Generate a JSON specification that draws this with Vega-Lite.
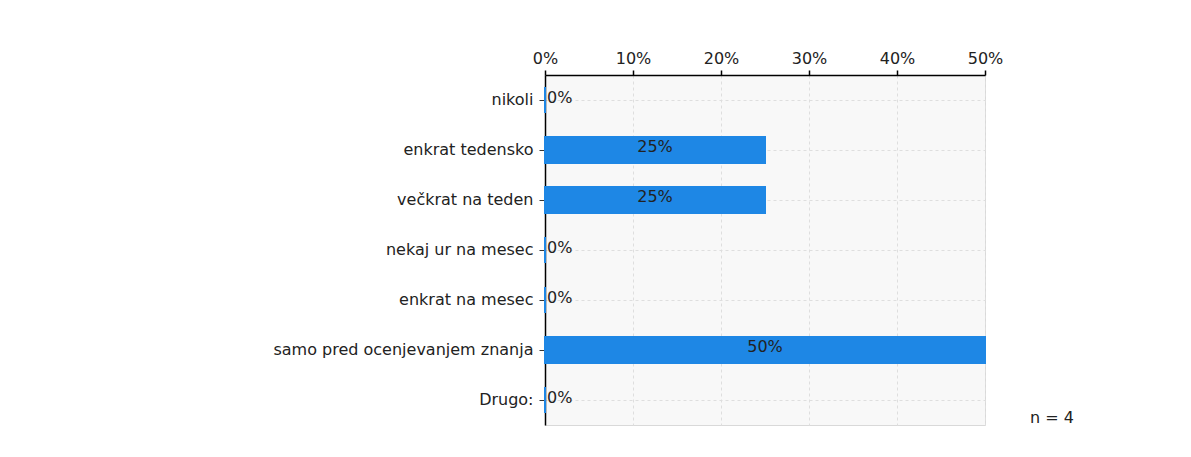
{
  "$schema": "https://vega.github.io/schema/vega-lite/v6.json",
  "autosize": "none",
  "width": 440,
  "height": 350,
  "padding": {"left": 545, "top": 75, "right": 206, "bottom": 32},
  "background": "white",
  "config": {
    "font": "DejaVu Sans",
    "view": {"fill": "#f8f8f8", "stroke": "#d9d9d9", "strokeWidth": 1}
  },
  "data": {
    "values": [
      {"kategorija": "nikoli", "delez": 0},
      {"kategorija": "enkrat tedensko", "delez": 0.25},
      {"kategorija": "večkrat na teden", "delez": 0.25},
      {"kategorija": "nekaj ur na mesec", "delez": 0},
      {"kategorija": "enkrat na mesec", "delez": 0},
      {"kategorija": "samo pred ocenjevanjem znanja", "delez": 0.5},
      {"kategorija": "Drugo:", "delez": 0}
    ]
  },
  "encoding": {
    "y": {
      "field": "kategorija",
      "type": "nominal",
      "sort": null,
      "scale": {"paddingInner": 0.48, "paddingOuter": 0.24},
      "axis": {
        "title": null,
        "domainColor": "#000",
        "domainWidth": 1.5,
        "tickColor": "#333",
        "tickSize": 6,
        "labelPadding": 6,
        "labelFontSize": 16,
        "labelColor": "#222",
        "labelFont": "DejaVu Sans",
        "grid": true,
        "gridColor": "#dedede",
        "gridDash": [3, 3],
        "labelLimit": 400
      }
    }
  },
  "layer": [
    {
      "mark": {"type": "bar", "color": "#1e87e5", "stroke": "#1e87e5", "strokeWidth": 2},
      "encoding": {
        "x": {
          "field": "delez",
          "type": "quantitative",
          "scale": {"domain": [0, 0.5], "nice": false},
          "axis": {
            "orient": "top",
            "title": null,
            "format": ".0%",
            "values": [0, 0.1, 0.2, 0.3, 0.4, 0.5],
            "domainColor": "#000",
            "domainWidth": 1.5,
            "tickColor": "#000",
            "tickSize": 5,
            "tickWidth": 1.5,
            "labelPadding": 4,
            "labelFontSize": 16,
            "labelColor": "#222",
            "labelFont": "DejaVu Sans",
            "labelFlush": false,
            "grid": true,
            "gridColor": "#dedede",
            "gridDash": [3, 3]
          }
        }
      }
    },
    {
      "transform": [
        {"filter": "datum.delez > 0"},
        {"calculate": "datum.delez / 2", "as": "sredina"}
      ],
      "mark": {"type": "text", "align": "center", "baseline": "middle", "dy": -3, "fontSize": 16, "color": "#222"},
      "encoding": {
        "x": {"field": "sredina", "type": "quantitative"},
        "text": {"field": "delez", "type": "quantitative", "format": ".0%"}
      }
    },
    {
      "transform": [{"filter": "datum.delez == 0"}],
      "mark": {"type": "text", "align": "left", "baseline": "middle", "dx": 2, "dy": -2, "fontSize": 16, "color": "#222"},
      "encoding": {
        "x": {"field": "delez", "type": "quantitative"},
        "text": {"field": "delez", "type": "quantitative", "format": ".0%"}
      }
    },
    {
      "data": {"values": [{"oznaka": "n = 4", "x": 0.5, "kategorija": "Drugo:"}]},
      "mark": {"type": "text", "align": "left", "baseline": "middle", "dx": 45, "dy": 18, "fontSize": 16, "color": "#222"},
      "encoding": {
        "x": {"field": "x", "type": "quantitative"},
        "text": {"field": "oznaka"}
      }
    }
  ]
}
